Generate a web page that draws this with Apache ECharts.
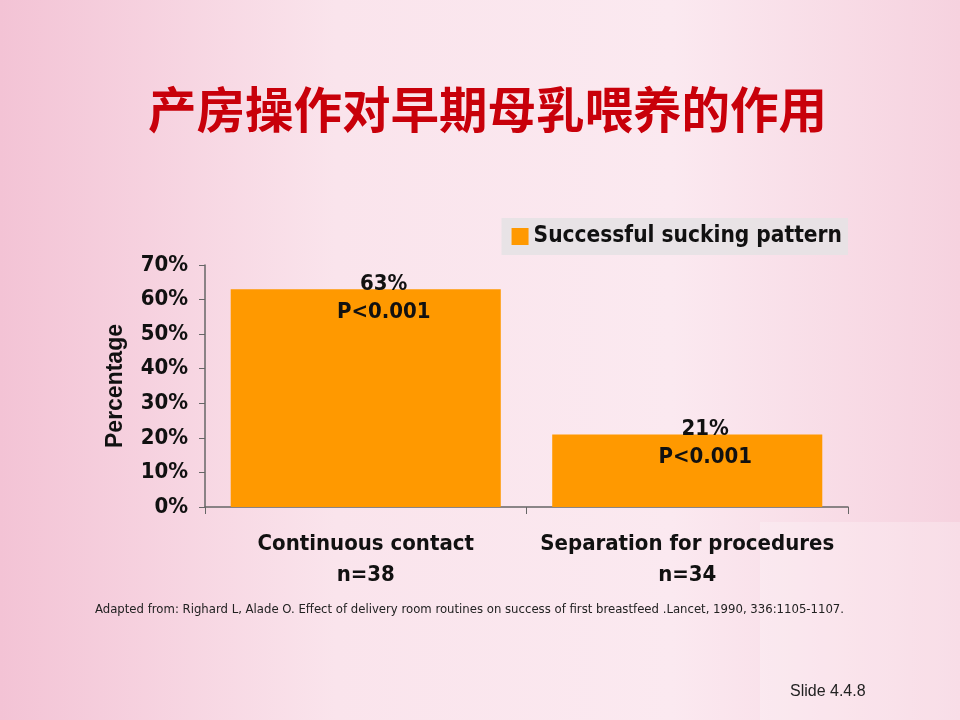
<!DOCTYPE html>
<html>
<head>
<meta charset="utf-8">
<script src="https://cdn.jsdelivr.net/npm/echarts@6/dist/echarts.min.js"></script>
<style>
  html, body { margin: 0; padding: 0; }
  #chart { width: 960px; height: 720px; }
</style>
</head>
<body>
<div id="chart"></div>
<script>
// 数据
var categories = ['Continuous contact\nn=38', 'Separation for procedures\nn=34'];
var values = [63, 21];
var pLabels = ['P<0.001', 'P<0.001'];
var seriesName = 'Successful sucking pattern';

var narrow = '"Liberation Sans Narrow", "Arial Narrow", "DejaVu Sans Condensed", "Liberation Sans", Arial, sans-serif';

echarts.init(document.getElementById('chart')).setOption({
    backgroundColor: {
        type: 'linear', x: 0, y: 0, x2: 1, y2: 0,
        colorStops: [
            {offset: 0, color: '#f3c3d5'},
            {offset: 0.35, color: '#fae4ec'},
            {offset: 0.7, color: '#fbe9f0'},
            {offset: 1, color: '#f6d2df'}
        ]
    },
    graphic: [
        {
            type: 'rect', z: -1,
            shape: {x: 760, y: 522, width: 200, height: 198},
            style: {fill: 'rgba(255,255,255,0.25)'}
        },
        {
            type: 'text', left: 148, top: 85,
            style: {
                text: '产房操作对早期母乳喂养的作用',
                font: 'bold 48.5px "Noto Sans CJK SC", sans-serif',
                fill: '#c8000a'
            }
        },
        {
            type: 'text', left: 95, top: 603,
            style: {
                text: 'Adapted from: Righard L, Alade O. Effect of delivery room routines on success of first breastfeed .Lancet, 1990, 336:1105-1107.',
                font: '13px ' + narrow,
                fill: '#222'
            }
        },
        {
            type: 'text', left: 790, top: 684,
            style: {
                text: 'Slide 4.4.8',
                font: '16px "Liberation Sans", Arial, sans-serif',
                fill: '#222'
            }
        }
    ],
    legend: {
        right: 112,
        top: 218,
        padding: [7, 6, 7, 10],
        icon: 'rect',
        itemWidth: 17,
        itemHeight: 17,
        itemGap: 4,
        backgroundColor: 'rgba(230,226,228,0.9)',
        textStyle: {
            fontFamily: narrow,
            fontWeight: 'bold',
            fontSize: 22.5,
            color: '#111'
        },
        data: [seriesName]
    },
    grid: {
        left: 205,
        right: 112,
        top: 265,
        bottom: 213
    },
    xAxis: {
        type: 'category',
        data: categories,
        axisLine: {lineStyle: {color: '#666', width: 1.5}},
        axisTick: {show: true, length: 7, lineStyle: {color: '#666'}},
        axisLabel: {
            interval: 0,
            margin: 22,
            lineHeight: 31,
            fontFamily: narrow,
            fontWeight: 'bold',
            fontSize: 22,
            color: '#111'
        }
    },
    yAxis: {
        type: 'value',
        min: 0,
        max: 70,
        interval: 10,
        name: 'Percentage',
        nameLocation: 'middle',
        nameGap: 78,
        nameTextStyle: {
            fontFamily: '"Liberation Sans", Arial, sans-serif',
            fontWeight: 'bold',
            fontSize: 23,
            color: '#111'
        },
        splitLine: {show: false},
        axisLine: {show: true, lineStyle: {color: '#666', width: 1.5}},
        axisTick: {show: true, length: 6, lineStyle: {color: '#666'}},
        axisLabel: {
            formatter: '{value}%',
            margin: 17,
            fontFamily: narrow,
            fontWeight: 'bold',
            fontSize: 22,
            color: '#111'
        }
    },
    series: [
        {
            name: seriesName,
            type: 'bar',
            data: values,
            barCategoryGap: '16%',
            itemStyle: {color: '#ff9900'},
            label: {
                show: true,
                position: 'insideTop',
                offset: [18, -24],
                lineHeight: 28,
                fontFamily: narrow,
                fontWeight: 'bold',
                fontSize: 22,
                color: '#111',
                formatter: function(p) {
                    return p.value + '%\n' + pLabels[p.dataIndex];
                }
            }
        }
    ]
});
</script>
</body>
</html>
